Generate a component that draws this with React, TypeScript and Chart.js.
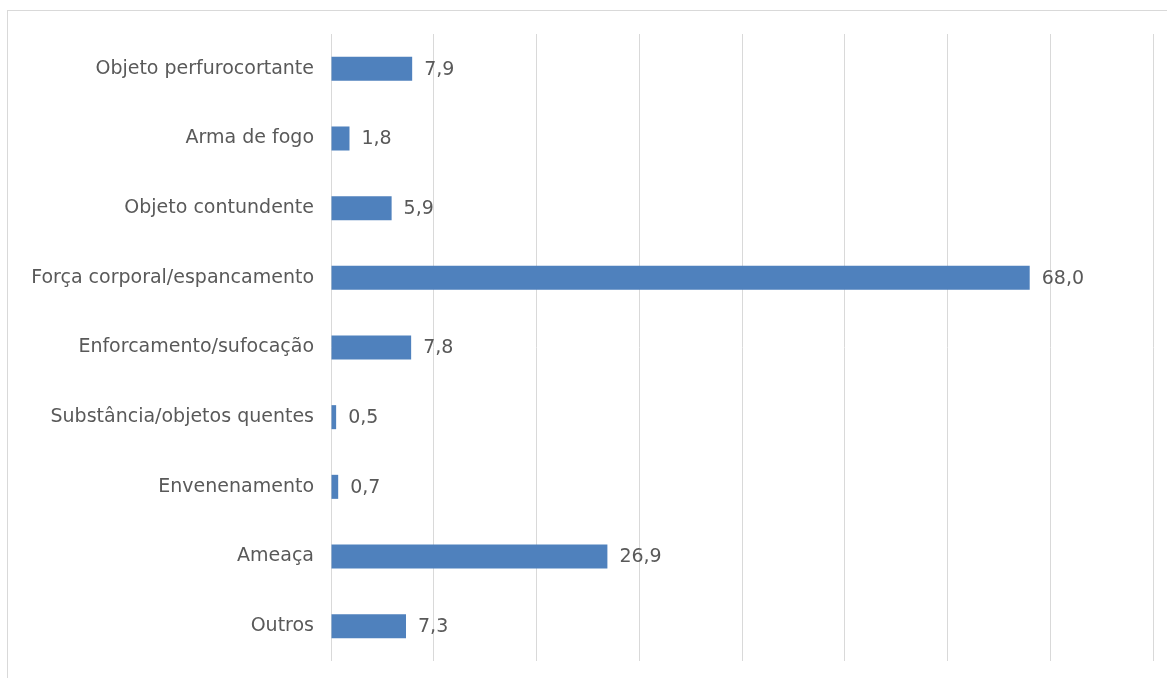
import React, { useEffect, useRef } from "react";
import { Chart, registerables } from "chart.js";

Chart.register(...registerables);

const categories = [
  "Objeto perfurocortante",
  "Arma de fogo",
  "Objeto contundente",
  "Força corporal/espancamento",
  "Enforcamento/sufocação",
  "Substância/objetos quentes",
  "Envenenamento",
  "Ameaça",
  "Outros",
];
const values = [7.9, 1.8, 5.9, 68.0, 7.8, 0.5, 0.7, 26.9, 7.3];
const axisMax = 80;
const axisStep = 10;

const FONT = "'DejaVu Sans', Verdana, sans-serif";
const TEXT = "#595959";

const valueLabels = {
  id: "valueLabels",
  afterDatasetsDraw(chart: any) {
    const ctx = chart.ctx;
    const meta = chart.getDatasetMeta(0);
    ctx.save();
    ctx.font = `19px ${FONT}`;
    ctx.fillStyle = TEXT;
    ctx.textAlign = "left";
    ctx.textBaseline = "middle";
    meta.data.forEach((bar: any, i: number) => {
      const txt = values[i].toFixed(1).replace(".", ",");
      ctx.fillText(txt, bar.x + 12, bar.y + 1);
    });
    ctx.restore();
  },
};

export default function App() {
  const ref = useRef<HTMLCanvasElement>(null);
  useEffect(() => {
    const chart = new Chart(ref.current!, {
      type: "bar",
      data: {
        labels: categories,
        datasets: [
          {
            data: values,
            backgroundColor: "#4F81BD",
            borderWidth: 0,
            barPercentage: 0.345,
            categoryPercentage: 1,
          },
        ],
      },
      options: {
        indexAxis: "y",
        animation: false,
        responsive: false,
        maintainAspectRatio: false,
        layout: { padding: { top: 34, bottom: 17, right: 14, left: 0 } },
        plugins: { legend: { display: false }, tooltip: { enabled: false } },
        scales: {
          x: {
            min: 0,
            max: axisMax,
            ticks: { display: false, stepSize: axisStep },
            grid: { color: "#d9d9d9", lineWidth: 1, drawTicks: false },
            border: { display: false },
            afterFit(scale: any) {
              scale.height = 0;
              scale.paddingLeft = 0;
              scale.paddingRight = 0;
            },
          },
          y: {
            grid: { display: false, drawTicks: false },
            border: { display: false },
            ticks: {
              color: TEXT,
              font: { family: FONT, size: 19 },
              padding: 17,
            },
            afterFit(scale: any) {
              scale.width = 331;
              scale.paddingTop = 0;
              scale.paddingBottom = 0;
            },
          },
        },
      },
      plugins: [valueLabels],
    });
    return () => chart.destroy();
  }, []);
  return (
    <div
      style={{
        position: "fixed",
        left: 0,
        top: 0,
        width: 1167,
        height: 678,
        overflow: "hidden",
        background: "#fff",
      }}
    >
      <div
        style={{
          position: "absolute",
          left: 7,
          top: 10,
          width: 1200,
          height: 700,
          borderLeft: "1px solid #d9d9d9",
          borderTop: "1px solid #d9d9d9",
        }}
      />
      <canvas
        ref={ref}
        width={1167}
        height={678}
        style={{ position: "absolute", left: 0, top: 0, width: 1167, height: 678 }}
      />
    </div>
  );
}
